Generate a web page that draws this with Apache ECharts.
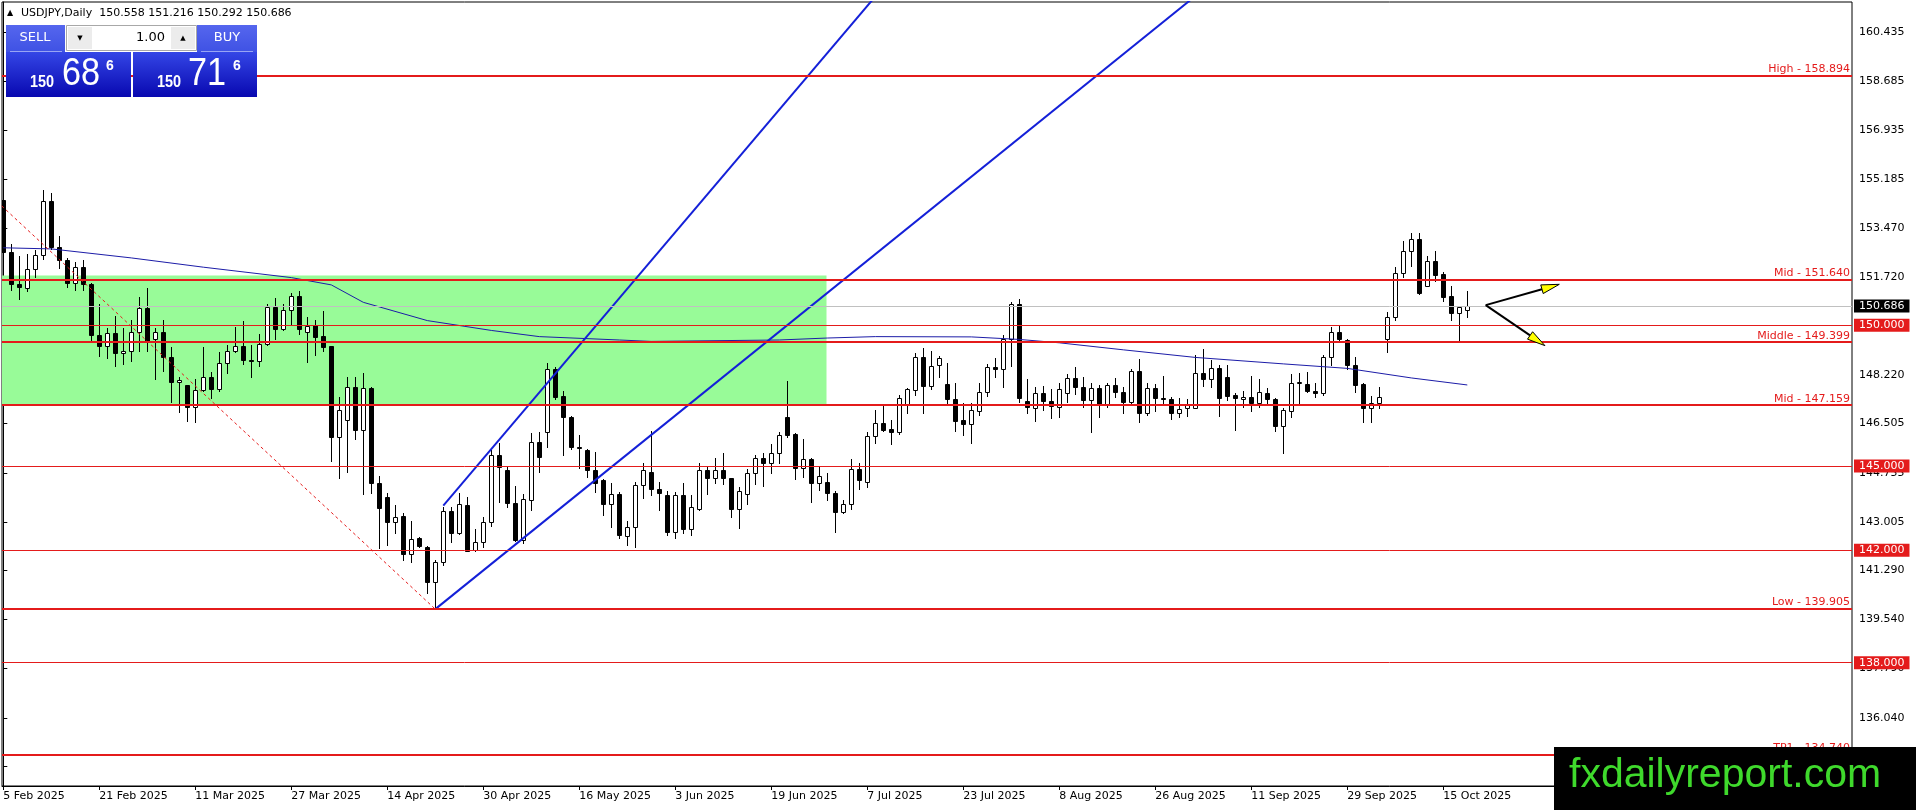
<!DOCTYPE html>
<html><head><meta charset="utf-8">
<script src="https://cdn.jsdelivr.net/npm/echarts@6/dist/echarts.min.js"></script>
<style>html,body{margin:0;padding:0;background:#fff;overflow:hidden}#c{width:1916px;height:810px}</style>
</head><body><div id="c"></div>
<script>
// ---- candle data (USDJPY daily, index 0 = 5 Feb 2025) ----
const open = [154.46,152.62,151.46,151.32,151.99,152.49,154.41,152.80,152.33,151.49,152.06,151.46,149.65,149.28,149.72,149.00,149.09,149.78,150.62,149.50,
149.77,148.86,147.97,147.88,147.11,147.70,148.17,147.72,148.65,149.10,149.26,148.77,148.74,149.33,150.66,149.86,150.55,151.04,149.77,150.01,
149.62,149.27,146.04,146.63,147.82,146.28,147.76,144.40,143.88,142.99,143.22,141.87,142.44,142.13,140.86,141.57,143.41,142.60,143.61,142.01,
142.30,143.02,145.39,144.85,143.67,142.37,143.79,145.86,146.22,148.44,147.49,146.73,145.66,145.57,144.85,144.50,143.64,144.00,142.50,142.81,
144.32,144.79,144.17,143.97,142.66,143.97,142.74,143.47,144.85,144.56,144.85,144.56,143.46,143.99,144.74,145.27,145.09,145.45,146.73,146.14,
144.91,145.23,144.38,144.43,144.05,143.37,143.65,144.88,144.44,146.06,146.54,146.30,146.22,147.20,147.70,148.86,147.84,148.59,147.91,147.37,
146.63,146.48,146.97,147.64,148.53,148.44,149.50,150.75,147.32,147.05,147.58,147.32,147.11,147.61,148.12,147.82,147.35,147.76,147.17,147.88,
147.64,147.29,148.38,146.90,147.76,147.40,147.37,146.90,147.05,147.05,148.32,148.08,148.47,148.15,147.52,147.37,147.44,147.23,147.61,147.37,
146.43,146.97,147.96,147.91,147.68,147.61,148.86,149.78,149.48,148.59,147.91,147.05,147.23,149.50,150.31,151.87,152.66,153.06,151.40,152.29,
151.83,151.05,150.43,150.558];
const high = [154.55,152.88,152.47,152.54,152.68,154.82,154.70,153.18,152.38,152.27,152.33,151.49,150.75,149.91,150.33,149.91,150.19,151.02,151.34,149.91,
150.19,149.22,148.15,147.88,148.10,149.22,148.35,149.04,149.30,149.95,150.15,149.30,149.69,150.76,150.98,150.76,151.14,151.23,150.31,150.19,
150.51,149.27,147.46,148.17,148.17,148.29,147.80,144.64,144.05,143.61,143.31,143.05,142.46,142.15,141.65,143.55,143.53,144.02,143.91,142.74,
143.17,145.57,145.83,144.97,144.28,144.00,146.18,146.22,148.67,148.53,147.66,146.78,146.10,145.59,145.51,144.52,144.38,144.08,143.05,144.44,
145.09,146.25,144.44,144.12,144.08,144.40,143.97,145.11,144.97,145.27,145.47,144.56,144.26,144.88,145.39,145.45,145.78,146.22,148.03,146.18,
145.95,145.27,144.97,144.76,144.12,143.79,145.23,145.09,146.22,146.99,147.13,146.63,147.52,147.76,149.03,149.18,149.10,148.91,148.65,147.94,
147.23,147.23,147.94,148.63,148.83,149.66,150.84,150.93,148.08,147.82,147.84,147.72,147.94,148.27,148.51,148.15,147.96,147.88,147.96,148.12,
147.82,148.44,148.79,147.94,147.91,148.20,147.46,147.40,147.37,148.95,149.15,148.77,148.59,148.59,147.58,147.68,148.20,148.08,147.76,147.40,
147.05,148.27,148.29,148.35,147.94,148.95,149.93,149.98,149.50,148.86,147.94,147.49,147.79,150.49,152.09,153.01,153.27,153.30,152.47,152.66,
151.91,151.40,150.64,151.216];
const low = [152.15,151.26,150.93,151.24,151.73,152.36,152.70,152.03,151.35,151.26,151.26,149.48,148.92,148.85,148.57,148.61,148.73,149.10,149.10,148.10,
148.39,147.29,146.91,146.61,146.55,147.65,147.40,147.65,148.29,149.05,148.61,148.17,148.57,149.30,149.50,149.85,150.05,149.69,148.71,148.95,
149.10,145.19,144.56,144.80,145.95,144.00,144.02,142.07,142.19,142.60,141.65,141.59,142.10,140.47,139.905,141.47,142.28,142.58,141.99,141.99,
142.13,142.86,143.73,143.55,142.34,142.25,143.43,144.80,145.69,147.37,145.39,145.59,144.91,144.62,144.08,143.25,142.81,142.42,142.19,142.10,
143.85,143.96,143.43,142.54,142.42,142.60,142.54,143.43,144.00,144.38,144.36,143.17,142.78,143.63,144.36,144.30,144.74,145.11,146.02,144.52,
144.59,143.73,144.14,143.79,142.66,143.31,143.46,144.17,144.24,145.83,146.25,145.77,146.14,146.87,147.52,146.89,147.72,148.18,147.23,146.25,
146.10,145.83,146.81,147.49,148.15,147.80,148.55,147.29,146.87,146.61,146.99,146.69,146.73,147.29,147.56,147.09,146.22,146.73,147.09,147.44,
146.87,147.25,146.57,146.81,146.97,147.25,146.66,146.75,146.78,147.05,147.84,147.80,146.78,147.35,146.28,147.11,146.97,147.11,147.25,146.25,
145.45,146.73,147.20,147.64,147.46,147.52,148.59,149.42,148.44,147.64,146.57,146.57,147.05,149.06,150.19,151.73,152.11,151.12,151.40,151.59,
150.88,150.19,149.42,150.292];
const close = [152.62,151.46,151.38,151.99,152.49,154.41,152.80,152.33,151.49,152.06,151.46,149.65,149.28,149.72,149.00,149.09,149.78,150.62,149.45,149.77,
148.86,147.97,148.06,147.11,147.70,148.17,147.72,148.65,149.10,149.26,148.77,148.75,149.33,150.64,149.86,150.55,151.04,149.86,149.98,149.60,
149.24,146.04,146.99,147.82,146.28,147.76,144.40,143.49,142.99,143.19,141.87,142.41,142.15,140.86,141.57,143.41,142.60,143.65,141.99,142.30,
143.02,145.39,144.95,143.67,142.37,143.81,145.86,145.33,148.44,147.46,146.73,145.66,145.64,144.85,144.40,143.64,144.00,142.54,142.81,144.32,
144.85,144.17,144.02,142.66,143.97,142.74,143.53,144.85,144.56,144.85,144.56,143.46,144.12,144.74,145.27,145.09,145.45,146.10,146.10,144.91,
145.23,144.38,144.64,144.02,143.37,143.65,144.88,144.50,146.06,146.54,146.28,146.22,147.40,147.72,148.86,147.84,148.55,148.83,147.37,146.61,
146.48,146.99,147.64,148.53,148.44,149.50,150.75,147.40,147.11,147.58,147.32,147.13,147.72,148.12,147.82,147.35,147.76,147.17,147.88,147.64,
147.29,148.38,146.90,147.76,147.40,147.37,146.90,147.01,147.17,148.32,148.08,148.47,147.40,147.49,147.40,147.44,147.23,147.64,147.37,146.42,
146.99,147.96,147.97,147.68,147.61,148.89,149.78,149.50,148.59,147.88,147.05,147.23,147.46,150.31,151.87,152.66,153.06,151.16,152.29,151.79,
151.02,150.43,150.64,150.686];

// ---- x axis (bar index) labels ----
const xLabelIdx = [0,12,24,36,48,60,72,84,96,108,120,132,144,156,168,180];
const xLabels = ['5 Feb 2025','21 Feb 2025','11 Mar 2025','27 Mar 2025','14 Apr 2025','30 Apr 2025','16 May 2025','3 Jun 2025',
  '19 Jun 2025','7 Jul 2025','23 Jul 2025','8 Aug 2025','26 Aug 2025','11 Sep 2025','29 Sep 2025','15 Oct 2025'];
// ---- y axis tick labels ----
const yTicks = [160.435,158.685,156.935,155.185,153.470,151.720,149.970,148.220,146.505,144.755,143.005,141.290,139.540,137.790,136.040,134.325];

// ---- moving average (read at sample bars) ----
const maIdx = [0,6,16,25,36,41,45,53,61,67,77,81,97,103,109,121,127,132,140,149,160,168,176,183];
const maVal = [152.76,152.72,152.40,152.07,151.70,151.44,150.82,150.17,149.82,149.60,149.48,149.43,149.48,149.55,149.60,149.59,149.50,149.38,149.13,148.86,148.63,148.47,148.13,147.88];

// ---- drawn levels ----
const levelValues = [158.894,151.640,149.399,147.159,139.905,134.740];
const levelNames  = ['High','Mid','Middle','Mid','Low','TP1'];
const roundLevels = [150,145,142,138];
const bidPrice = 150.686;

// ---- drawn objects (bar index, price) ----
const zoneBox = [-2,147.159,102.9,151.77];
const channelA = [[55,143.59],[109,161.7]];
const channelB = [[54,139.905],[148.5,161.6]];
const diagDash = [[-0.2,154.25],[54,139.905]];
const arrows = [[185.3,150.72,194.5,151.46],[185.3,150.72,192.7,149.28]];

const X_MIN = -0.1625, X_MAX = 231.0875, Y_MIN = 133.613, Y_MAX = 161.504;
const RED = '#e41b1b', FONT = 'DejaVu Sans';

const candleData = open.map((o,i)=>[i,o,close[i],low[i],high[i]]);

function renderCandle(params, api){
  const i = api.value(0), o = api.value(1), c = api.value(2);
  const po = api.coord([i,o]), pc = api.coord([i,c]), pl = api.coord([i,api.value(3)]), ph = api.coord([i,api.value(4)]);
  const x = Math.round(po[0]-0.5)+0.5;
  const yT = Math.round(Math.min(po[1],pc[1]))+0.5, yB = Math.round(Math.max(po[1],pc[1]))+0.5;
  return {type:'group', children:[
    {type:'line', shape:{x1:x,y1:Math.round(ph[1]),x2:x,y2:Math.round(pl[1])+1}, style:{stroke:'#000',lineWidth:1}},
    {type:'rect', shape:{x:x-2,y:yT,width:4,height:Math.max(yB-yT,0)}, style:{fill:c>=o?'#fff':'#000',stroke:'#000',lineWidth:1}}
  ]};
}
function renderBox(params, api){
  const a = api.coord([api.value(0),api.value(1)]), b = api.coord([api.value(2),api.value(3)]);
  return {type:'rect', shape:{x:Math.min(a[0],b[0]),y:Math.min(a[1],b[1]),width:Math.abs(b[0]-a[0]),height:Math.abs(b[1]-a[1])},
    style:{fill:'#98fb98'}};
}
function renderArrow(params, api){
  const p0 = api.coord([api.value(0),api.value(1)]), p1 = api.coord([api.value(2),api.value(3)]);
  const dx = p1[0]-p0[0], dy = p1[1]-p0[1], len = Math.sqrt(dx*dx+dy*dy), ux = dx/len, uy = dy/len;
  const hl = 18, hw = 4.5;
  const bx = p1[0]-ux*hl, by = p1[1]-uy*hl;
  return {type:'group', children:[
    {type:'line', shape:{x1:p0[0],y1:p0[1],x2:bx,y2:by}, style:{stroke:'#000',lineWidth:2}},
    {type:'polygon', shape:{points:[[p1[0],p1[1]],[bx-uy*hw,by+ux*hw],[bx+uy*hw,by-ux*hw]]}, style:{fill:'#ffff00',stroke:'#000',lineWidth:1}}
  ]};
}

const markData = [];
levelValues.forEach((v,k)=>{
  markData.push({yAxis:v, lineStyle:{color:RED,width:2,type:'solid'},
    label:{show:true,position:'insideEndTop',distance:[2,1],formatter:levelNames[k]+' - '+v.toFixed(3),color:RED,fontFamily:FONT,fontSize:11}});
});
roundLevels.forEach(v=>{
  markData.push({yAxis:v, lineStyle:{color:RED,width:1,type:'solid'},
    label:{show:true,position:'end',distance:2,formatter:v.toFixed(3),color:'#fff',backgroundColor:RED,padding:[1,5,1,5],fontFamily:FONT,fontSize:11}});
});
markData.push({yAxis:bidPrice, lineStyle:{color:'#c0c0c0',width:1,type:'solid'},
  label:{show:true,position:'end',distance:2,formatter:bidPrice.toFixed(3),color:'#fff',backgroundColor:'#000',padding:[1,5,1,5],fontFamily:FONT,fontSize:11}});

const grad=(a,b)=>new echarts.graphic.LinearGradient(0,0,0,1,[{offset:0,color:a},{offset:1,color:b}]);
const T=(text,x,y,font,fill,align,extra)=>Object.assign({type:'text',z:101,style:{text,x,y,font,fill,textAlign:align||'left',textVerticalAlign:'middle'}},extra||{});

const chart = echarts.init(document.getElementById('c'), null, {renderer:'canvas'});
chart.setOption({
  animation:false,
  grid:{left:2,top:2,right:64,bottom:24,show:true,borderColor:'#000',borderWidth:1,backgroundColor:'#fff'},
  xAxis:{type:'value',min:X_MIN,max:X_MAX,
    axisLine:{show:true,lineStyle:{color:'#000'}},
    axisTick:{show:true,length:4,lineStyle:{color:'#000'},customValues:xLabelIdx},
    axisLabel:{customValues:xLabelIdx,formatter:v=>xLabels[xLabelIdx.indexOf(v)]||'',align:'left',margin:5,color:'#000',fontFamily:FONT,fontSize:11},
    splitLine:{show:false}},
  yAxis:{type:'value',position:'right',min:Y_MIN,max:Y_MAX,scale:true,
    axisLine:{show:true,lineStyle:{color:'#000'}},
    axisTick:{show:true,length:4,lineStyle:{color:'#000'},customValues:yTicks},
    axisLabel:{customValues:yTicks,formatter:v=>Number(v).toFixed(3),margin:7,color:'#000',fontFamily:FONT,fontSize:11},
    splitLine:{show:false}},
  series:[
    {type:'custom',name:'zone',z:1,clip:true,renderItem:renderBox,data:[zoneBox],encode:{x:[0,2],y:[1,3]},silent:true},
    {type:'custom',name:'USDJPY',z:2,clip:true,renderItem:renderCandle,data:candleData,encode:{x:0,y:[1,2,3,4]}},
    {type:'line',name:'MA',z:3,data:maIdx.map((x,k)=>[x,maVal[k]]),symbol:'none',lineStyle:{color:'#1c1ca8',width:1},silent:true,
      markLine:{silent:true,symbol:['none','none'],animation:false,data:markData}},
    {type:'line',name:'diag',z:3,data:diagDash,symbol:'none',lineStyle:{color:RED,width:1,type:[3,3]},silent:true,clip:true},
    {type:'line',name:'chanA',z:4,data:channelA,symbol:'none',lineStyle:{color:'#1420d8',width:2},silent:true,clip:true},
    {type:'line',name:'chanB',z:4,data:channelB,symbol:'none',lineStyle:{color:'#1420d8',width:2},silent:true,clip:true},
    {type:'custom',name:'arrows',z:5,clip:false,renderItem:renderArrow,data:arrows,encode:{x:[0,2],y:[1,3]},silent:true}
  ],
  graphic:[
    T('\u25B2',7,13,'8px "DejaVu Sans"','#000'),
    T('USDJPY,Daily  150.558 151.216 150.292 150.686',21,13,'11px "DejaVu Sans"','#000'),
    {type:'rect',z:100,shape:{x:6,y:25,width:59,height:27},style:{fill:grad('#5566ee','#3f52e4')}},
    {type:'rect',z:100,shape:{x:197,y:25,width:60,height:27},style:{fill:grad('#5566ee','#3f52e4')}},
    {type:'rect',z:100,shape:{x:66.5,y:25.5,width:130,height:25},style:{fill:'#ffffff',stroke:'#a8a8a8',lineWidth:1}},
    {type:'rect',z:100,shape:{x:68,y:27,width:24,height:22},style:{fill:'#ececec'}},
    {type:'rect',z:100,shape:{x:171,y:27,width:24,height:22},style:{fill:'#ececec'}},
    T('\u25BC',80,38,'7px "DejaVu Sans"','#000','center'),
    T('\u25B2',183,38,'7px "DejaVu Sans"','#000','center'),
    T('1.00',165,38,'13px "DejaVu Sans"','#000','right'),
    T('SELL',35,38,'13px "DejaVu Sans"','#fff','center'),
    T('BUY',227,38,'13px "DejaVu Sans"','#fff','center'),
    {type:'line',z:101,shape:{x1:10,y1:51.5,x2:62,y2:51.5},style:{stroke:'#98a4f4',lineWidth:1}},
    {type:'line',z:101,shape:{x1:201,y1:51.5,x2:253,y2:51.5},style:{stroke:'#98a4f4',lineWidth:1}},
    {type:'rect',z:100,shape:{x:6,y:52,width:125,height:45},style:{fill:grad('#3446e6','#0808b0')}},
    {type:'rect',z:100,shape:{x:133,y:52,width:124,height:45},style:{fill:grad('#3446e6','#0808b0')}},
    T('150',30,82,'bold 17px "Liberation Sans"','#fff','left',{scaleX:0.85,originX:30}),
    T('68',62,75,'38px "Liberation Sans"','#fff','left',{scaleX:0.9,originX:62}),
    T('6',106,66,'bold 14px "Liberation Sans"','#fff'),
    T('150',157,82,'bold 17px "Liberation Sans"','#fff','left',{scaleX:0.85,originX:157}),
    T('71',188,75,'38px "Liberation Sans"','#fff','left',{scaleX:0.9,originX:188}),
    T('6',233,66,'bold 14px "Liberation Sans"','#fff'),
    {type:'rect',z:100,shape:{x:1554,y:747,width:362,height:63},style:{fill:'#000'}},
    T('fxdailyreport.com',1569,776,'41px "Liberation Sans"','#3fd92c')
  ]
});
</script></body></html>
